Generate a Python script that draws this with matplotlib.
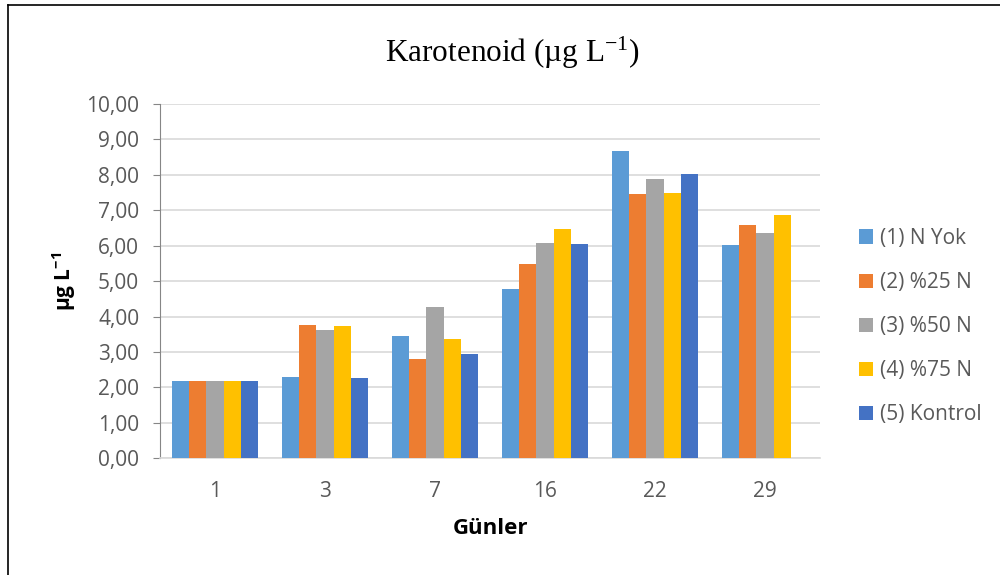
import numpy as np
import matplotlib.pyplot as plt
from matplotlib.lines import Line2D

plt.rcParams["font.family"] = ["Open Sans", "DejaVu Sans"]
plt.rcParams["mathtext.default"] = "regular"

DAYS = ["1", "3", "7", "16", "22", "29"]
SERIES = ["(1) N Yok", "(2) %25 N", "(3) %50 N", "(4) %75 N", "(5) Kontrol"]
N_YOK = [2.17, 2.30, 3.44, 4.79, 8.67, 6.02]
N_25 = [2.17, 3.76, 2.79, 5.49, 7.45, 6.58]
N_50 = [2.17, 3.62, 4.26, 6.08, 7.89, 6.36]
N_75 = [2.17, 3.74, 3.37, 6.47, 7.50, 6.88]
KONTROL = [2.17, 2.27, 2.95, 6.04, 8.03, np.nan]
COLORS = ["#5B9BD5", "#ED7D31", "#A5A5A5", "#FFC000", "#4472C4"]

TEXT = "#595959"

fig = plt.figure(figsize=(10, 5.75), dpi=100)
ax = fig.add_axes([0.16, 0.2029, 0.66, 0.6162])

x = np.arange(len(DAYS))
width = 0.155
for i, (label, vals, color) in enumerate(zip(SERIES, [N_YOK, N_25, N_50, N_75, KONTROL], COLORS)):
    ax.bar(x + (i - 2) * width, vals, width=width, color=color, label=label, zorder=3)

ax.set_xlim(-0.5, len(DAYS) - 0.5)
ax.set_ylim(0, 10)
ax.set_yticks(np.arange(0, 10.5, 1))
ax.set_yticklabels([f"{v:.2f}".replace(".", ",") for v in np.arange(0, 10.5, 1)])
ax.set_xticks(x)
ax.set_xticklabels(DAYS)
ax.grid(axis="y", color="#d9d9d9", linewidth=1.2, zorder=0)
for side in ["top", "right"]:
    ax.spines[side].set_visible(False)
ax.spines["left"].set_color("#868686")
ax.spines["bottom"].set_color("#d9d9d9")
ax.spines["bottom"].set_linewidth(1.2)
ax.tick_params(axis="y", colors=TEXT, labelsize=15, length=5, color="#868686", pad=10)
ax.tick_params(axis="x", colors=TEXT, labelsize=15, length=0, pad=16)

ax.set_xlabel("Günler", fontsize=16, fontweight="bold", color="black", labelpad=12)
ax.set_ylabel("µg L$^{-1}$", fontsize=15, fontweight="bold", color="black", labelpad=6)

fig.text(0.512, 0.908, "Karotenoid (µg L$^{-1}$)", ha="center", va="center",
         fontsize=22.5, family="Liberation Serif", color="black")

leg = ax.legend(loc="center left", bbox_to_anchor=(0.859, 0.432), bbox_transform=fig.transFigure,
                frameon=False, fontsize=15, labelspacing=1.11, handlelength=0.68,
                handleheight=0.68, handletextpad=0.35, borderaxespad=0, borderpad=0)
for t in leg.get_texts():
    t.set_color(TEXT)

# outer frame of the figure image
fig.add_artist(Line2D([0.008, 0.008], [0.0, 0.9913], color="black", linewidth=1.2))
fig.add_artist(Line2D([0.008, 1.0], [0.9913, 0.9913], color="black", linewidth=1.2))

fig.savefig("out.png", dpi=100)
